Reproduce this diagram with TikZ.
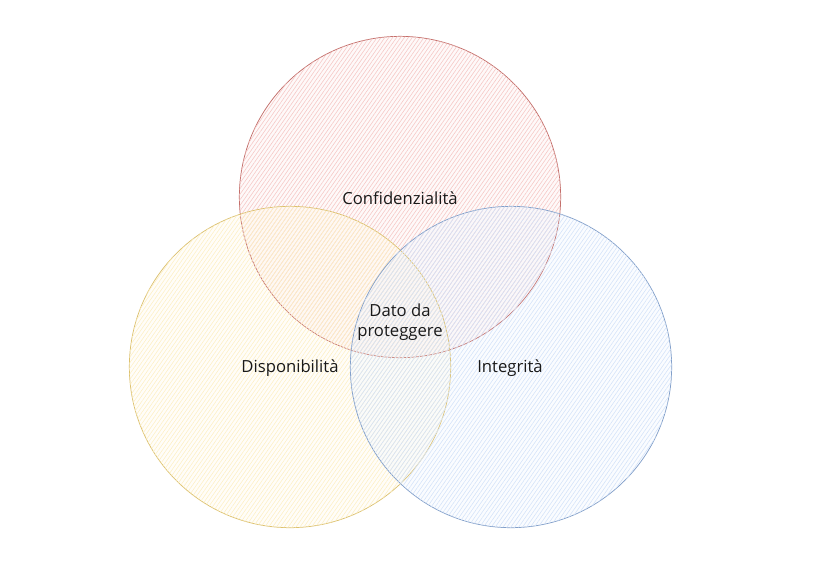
\documentclass[tikz,border=0pt]{standalone}
\usepackage{fontspec}
\setmainfont{Open Sans}
\usepackage{xcolor}
\usetikzlibrary{patterns.meta}

\definecolor{redline}{HTML}{B85450}
\definecolor{redfill}{HTML}{F8CECC}
\definecolor{yellowline}{HTML}{D6B656}
\definecolor{yellowfill}{HTML}{FFF2CC}
\definecolor{blueline}{HTML}{6C8EBF}
\definecolor{bluefill}{HTML}{DAE8FC}

\begin{document}
\begin{tikzpicture}[x=0.75pt, y=-0.75pt,
  venn/.style={circle, minimum size=241pt, inner sep=0pt, line width=0.55pt,
    draw=#1line!85, fill=#1fill, fill opacity=0.12,
    postaction={fill opacity=0.6, pattern={Lines[angle=55, distance=2.4pt, line width=0.45pt]},
      pattern color=#1fill!95!#1line}},
  label/.style={font=\fontsize{12.5}{15}\selectfont, align=center, text=black!90}
]
\useasboundingbox (0,0) rectangle (827,576);

% Three circles
\node[venn=red] (conf) at (400,197) {};
\node[venn=yellow] (disp) at (290,367) {};
\node[venn=blue] (integ) at (511,367) {};

% Labels
\node[label] (confl) at (400,198) {Confidenzialità};
\node[label] (displ) at (290,368) {Disponibilità};
\node[label] (integl) at (510,368) {Integrità};
\node[label] (dato) at (400,322) {Dato da\\proteggere};

\end{tikzpicture}
\end{document}
